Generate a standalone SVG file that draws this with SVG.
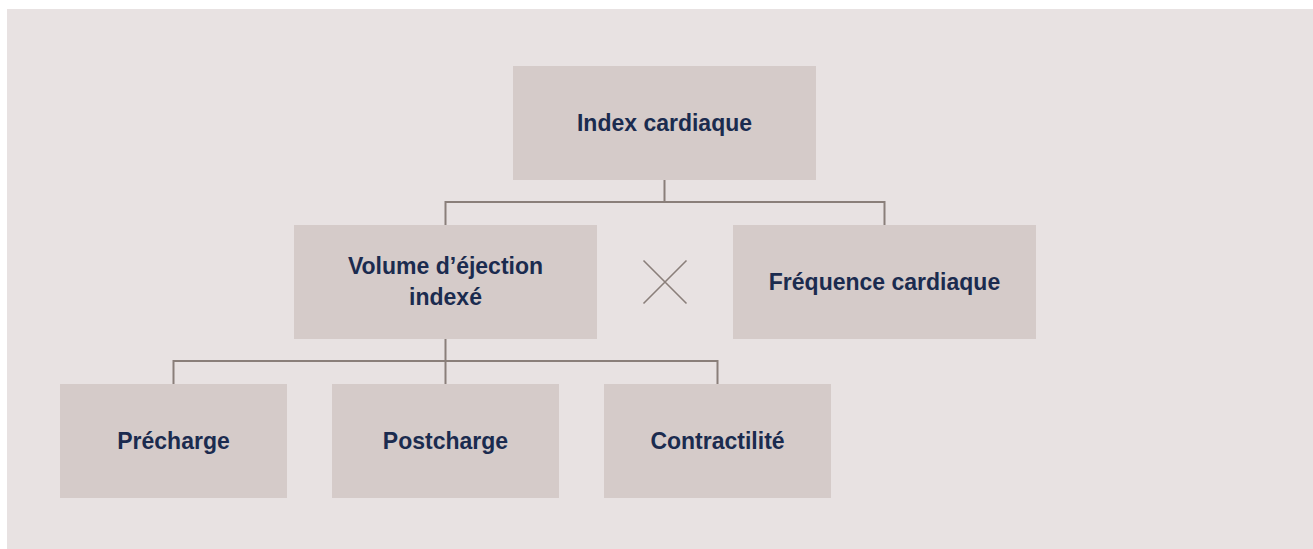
<svg xmlns="http://www.w3.org/2000/svg" width="1313" height="549" viewBox="0 0 1313 549">
<style>
.box{fill:#d5cbc9}
.lbl{font-family:"Liberation Sans",Arial,sans-serif;font-weight:bold;font-size:23px;fill:#1b2b4f;text-anchor:middle}
.ln{stroke:#8a7f7a;stroke-width:2;fill:none}
</style>
<rect x="0" y="0" width="1313" height="549" fill="#ffffff"/>
<rect x="7" y="9" width="1306" height="540" fill="#e8e2e2"/>
<g id="connectors" class="ln">
<path d="M664.5 180V202M445.5 202H884.5M445.5 201V225M884.5 201V225"/>
<path d="M445.5 339V361M173.5 361H717.5M173.5 360V384M445.5 361V384M717.5 360V384"/>
<path d="M643.5 260.5L686.5 303.5M686.5 260.5L643.5 303.5" stroke-width="1.6"/>
</g>
<g id="index-cardiaque"><rect class="box" x="513" y="66" width="303" height="114"/><text class="lbl" x="664.5" y="131">Index cardiaque</text></g>
<g id="volume-ejection"><rect class="box" x="294" y="225" width="303" height="114"/><text class="lbl" x="445.5" y="274">Volume d’éjection</text><text class="lbl" x="445.5" y="305">indexé</text></g>
<g id="frequence-cardiaque"><rect class="box" x="733" y="225" width="303" height="114"/><text class="lbl" x="884.5" y="290">Fréquence cardiaque</text></g>
<g id="precharge"><rect class="box" x="60" y="384" width="227" height="114"/><text class="lbl" x="173.5" y="449">Précharge</text></g>
<g id="postcharge"><rect class="box" x="332" y="384" width="227" height="114"/><text class="lbl" x="445.5" y="449">Postcharge</text></g>
<g id="contractilite"><rect class="box" x="604" y="384" width="227" height="114"/><text class="lbl" x="717.5" y="449">Contractilité</text></g>
</svg>
